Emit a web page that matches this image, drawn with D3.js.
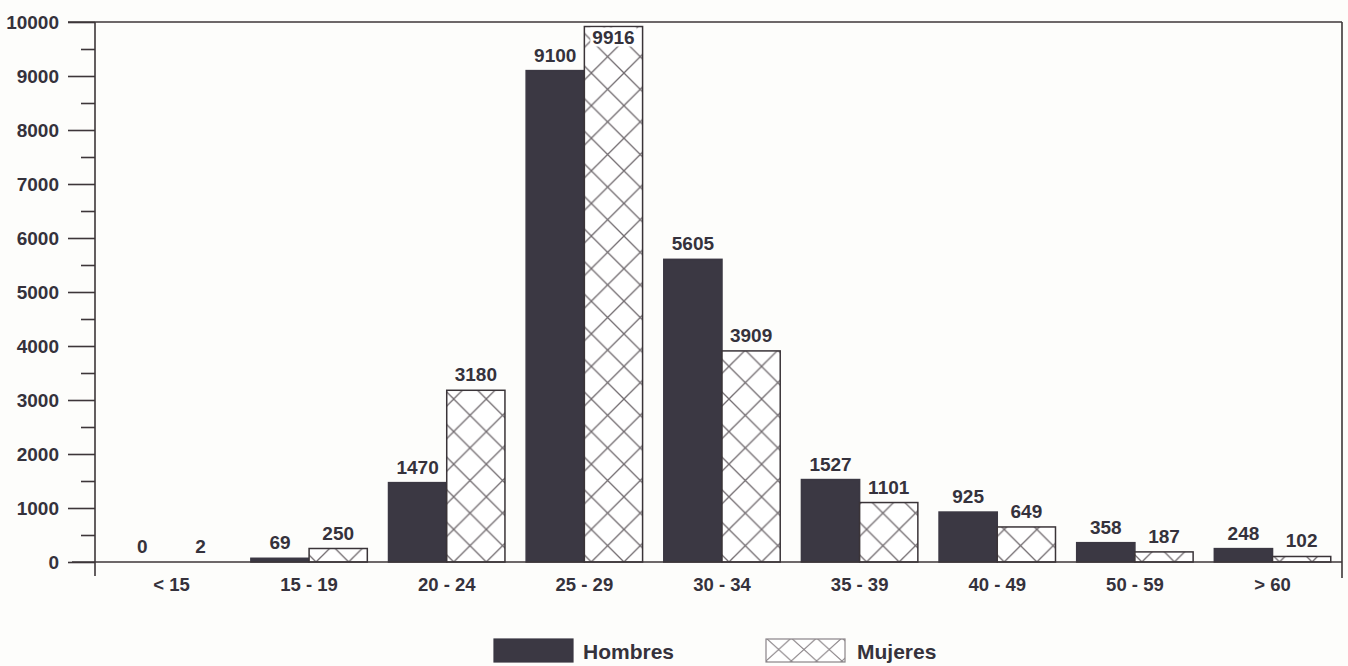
<!DOCTYPE html>
<html>
<head>
<meta charset="utf-8">
<script src="https://cdn.jsdelivr.net/npm/d3@7"></script>
<style>
  html, body { margin: 0; padding: 0; background: #fdfdfb; }
  svg { display: block; }
  text { font-family: "Liberation Sans", Arial, Helvetica, sans-serif; font-weight: bold; fill: #35323c; }
</style>
</head>
<body>
<svg id="chart" width="1348" height="666"></svg>
<script>
const categories = ["< 15", "15 - 19", "20 - 24", "25 - 29", "30 - 34", "35 - 39", "40 - 49", "50 - 59", "> 60"];
const seriesNames = ["Hombres", "Mujeres"];
const hombres = [0, 69, 1470, 9100, 5605, 1527, 925, 358, 248];
const mujeres = [2, 250, 3180, 9916, 3909, 1101, 649, 187, 102];
const yTickValues = [0, 1000, 2000, 3000, 4000, 5000, 6000, 7000, 8000, 9000, 10000];
const yMinorTicks = [500, 1500, 2500, 3500, 4500, 5500, 6500, 7500, 8500, 9500];

const svg = d3.select("#chart");
const axisColor = "#3d3639";
const darkFill = "#3b3843";
const hatchColor = "#726c70";

const axisX = 95, rightX = 1342, topY = 22, baseY = 562;

const y = d3.scaleLinear().domain([0, 10000]).range([baseY, topY]);
const x = d3.scaleBand().domain(categories).range([97, 1347]).paddingInner(0.154).paddingOuter(0.118);
const xs = d3.scaleBand().domain(seriesNames).range([0, x.bandwidth()]).padding(0);

// patterns
const defs = svg.append("defs");
const P = 32.6;
const pat = defs.append("pattern").attr("id", "hatch")
  .attr("patternUnits", "userSpaceOnUse")
  .attr("width", P).attr("height", P)
  .attr("x", 0).attr("y", baseY);
pat.append("rect").attr("width", P).attr("height", P).attr("fill", "#ffffff");
pat.append("path").attr("d", `M0,0L${P},${P}M${P},0L0,${P}M-2,-2L2,2M${P-2},${P-2}L${P+2},${P+2}`)
  .attr("stroke", hatchColor).attr("stroke-width", 1.3).attr("fill", "none");

// frame lines
svg.append("line").attr("x1", 68).attr("x2", rightX).attr("y1", topY).attr("y2", topY)
  .attr("stroke", axisColor).attr("stroke-width", 1.6);
svg.append("line").attr("x1", rightX).attr("x2", rightX).attr("y1", topY).attr("y2", 578)
  .attr("stroke", axisColor).attr("stroke-width", 1.6);

// bars
const data = categories.map((c, i) => ({ cat: c, values: [
  { s: "Hombres", v: hombres[i] }, { s: "Mujeres", v: mujeres[i] } ] }));

const groups = svg.append("g").selectAll("g").data(data).join("g")
  .attr("transform", d => `translate(${x(d.cat)},0)`);

groups.selectAll("rect").data(d => d.values.filter(e => e.v > 5)).join("rect")
  .attr("x", e => xs(e.s))
  .attr("y", e => y(e.v))
  .attr("width", xs.bandwidth())
  .attr("height", e => baseY - y(e.v))
  .attr("fill", e => e.s === "Hombres" ? darkFill : "url(#hatch)")
  .attr("stroke", e => e.s === "Hombres" ? darkFill : "#3a3438")
  .attr("stroke-width", 1.5);

// value labels
groups.each(function(d) {
  const g = d3.select(this);
  d.values.forEach(e => {
    const top = y(e.v);
    let by = top - 9;
    let inside = false;
    if (by < topY + 20) { by = top + 17; inside = true; }
    const cx = xs(e.s) + xs.bandwidth() / 2;
    const t = g.append("text").attr("x", cx).attr("y", by)
      .attr("text-anchor", "middle").attr("font-size", 19).text(e.v);
    if (inside) {
      const bb = t.node().getBBox();
      g.insert("rect", () => t.node())
        .attr("x", bb.x - 2).attr("y", bb.y + 1).attr("width", bb.width + 4).attr("height", bb.height - 2)
        .attr("fill", "#ffffff");
    }
  });
});

// y axis
const yAxis = d3.axisLeft(y).tickValues(yTickValues).tickSize(27).tickPadding(9).tickFormat(d3.format("d"));
const gy = svg.append("g").attr("transform", `translate(${axisX},0)`).call(yAxis);
gy.select(".domain").remove();
gy.selectAll(".tick line").attr("stroke", axisColor).attr("stroke-width", 1.6);
gy.selectAll(".tick text").attr("font-size", 19).attr("font-family", "Liberation Sans, Arial, sans-serif")
  .attr("font-weight", "bold").attr("fill", "#35323c");
const yMinor = d3.axisLeft(y).tickValues(yMinorTicks).tickSize(14).tickFormat("");
const gym = svg.append("g").attr("transform", `translate(${axisX},0)`).call(yMinor);
gym.select(".domain").remove();
gym.selectAll(".tick line").attr("stroke", axisColor).attr("stroke-width", 1.6);

// vertical axis line and baseline
svg.append("line").attr("x1", axisX).attr("x2", axisX).attr("y1", topY).attr("y2", 576)
  .attr("stroke", axisColor).attr("stroke-width", 1.6);
svg.append("line").attr("x1", 72).attr("x2", rightX).attr("y1", baseY).attr("y2", baseY)
  .attr("stroke", axisColor).attr("stroke-width", 1.6);

// x axis labels
const xAxis = d3.axisBottom(x).tickSize(0).tickPadding(16);
const gx = svg.append("g").attr("transform", `translate(0,${baseY})`).call(xAxis);
gx.select(".domain").remove();
gx.selectAll(".tick text").attr("font-size", 18.5).attr("font-family", "Liberation Sans, Arial, sans-serif")
  .attr("font-weight", "bold").attr("fill", "#35323c");

// legend
const legPat = defs.append("pattern").attr("id", "hatchLeg")
  .attr("patternUnits", "userSpaceOnUse")
  .attr("width", 25.3).attr("height", 23).attr("x", 766).attr("y", 638);
legPat.append("rect").attr("width", 25.3).attr("height", 23).attr("fill", "#fff");
legPat.append("path").attr("d", "M0,0L25.3,23M25.3,0L0,23")
  .attr("stroke", "#8a8488").attr("stroke-width", 1.1).attr("fill", "none");

const legend = [
  { name: seriesNames[0], bx: 494, tx: 583 },
  { name: seriesNames[1], bx: 766, tx: 857 }
];
legend.forEach((l, i) => {
  svg.append("rect").attr("x", l.bx).attr("y", 639).attr("width", 79).attr("height", 23)
    .attr("fill", i === 0 ? darkFill : "url(#hatchLeg)")
    .attr("stroke", i === 0 ? darkFill : "#8a8488").attr("stroke-width", 1.2);
  svg.append("text").attr("x", l.tx).attr("y", 659).attr("font-size", 21).text(l.name);
});
</script>
</body>
</html>
